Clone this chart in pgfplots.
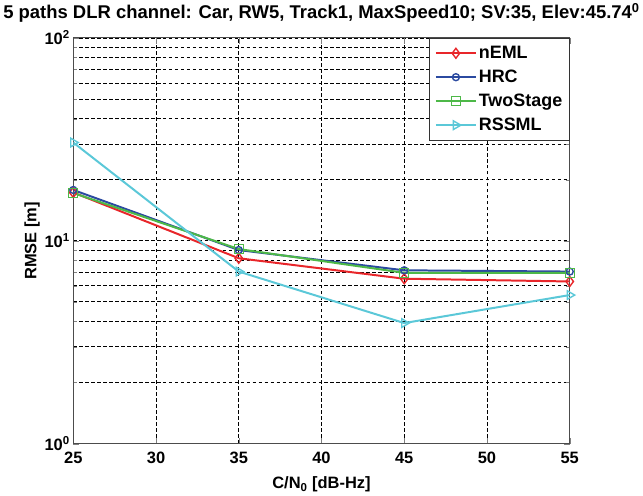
\documentclass[border=0pt]{standalone}
\usepackage{pgfplots}
\pgfplotsset{compat=1.18}
\usepackage{fontspec}
\setmainfont{Liberation Sans}

\definecolor{cEML}{RGB}{232,38,42}
\definecolor{cHRC}{RGB}{43,74,160}
\definecolor{cTwo}{RGB}{77,184,72}
\definecolor{cRSS}{RGB}{91,200,216}

\begin{document}
\begin{tikzpicture}
\begin{semilogyaxis}[
    scale only axis,
    width=498pt, height=407pt,
    xmin=25, xmax=55, ymin=1, ymax=100,
    xtick={25,30,...,55},
    ytick={1,10,100},
    yticklabels={10\textsuperscript{0},10\textsuperscript{1},10\textsuperscript{2}},
    /pgf/number format/assume math mode=true,
    tick label style={font=\fontsize{16.5}{18}\selectfont\bfseries},
    xticklabel style={yshift=-5pt},
    label style={font=\fontsize{16.5}{18}\selectfont\bfseries},
    title style={font=\fontsize{18.5}{20}\selectfont\bfseries, yshift=6pt},
    title={5 paths DLR channel: Car, RW5, Track1, MaxSpeed10; SV:35, Elev:45.74\textsuperscript{0}},
    xlabel={C/N\textsubscript{0} [dB-Hz]},
    ylabel={RMSE [m]},
    xlabel style={yshift=-6pt},
    ylabel style={yshift=-2pt},
    tick align=inside,
    major tick length=6pt, minor tick length=3.5pt,
    axis line style={black!70, line width=1pt},
    xmajorgrids, ymajorgrids, yminorgrids,
    grid style={black, dash pattern=on 3.5pt off 2.5pt, line width=0.7pt},
    minor grid style={black, dash pattern=on 3.5pt off 2.5pt, line width=0.7pt},
    legend style={at={(1,1)}, anchor=north east, draw=black!80, line width=1pt,
        font=\fontsize{18}{20}\selectfont\bfseries, row sep=6pt, inner xsep=5pt, inner ysep=6pt},
    legend cell align=left,
    legend image code/.code={\draw[mark repeat=2, mark phase=2] plot coordinates {(0pt,0pt) (20pt,0pt) (40pt,0pt)};},
    every axis plot/.append style={line width=2pt, mark size=4.5pt, mark options={solid, fill=none, line width=1.4pt}},
]
\addplot[color=cEML, mark=diamond, mark size=5pt] coordinates {(25,17.3) (35,8.2) (45,6.5) (55,6.3)};
\addplot[color=cHRC, mark=o, mark size=3.5pt] coordinates {(25,17.8) (35,9.0) (45,7.15) (55,7.05)};
\addplot[color=cTwo, mark=square] coordinates {(25,17.2) (35,9.1) (45,6.95) (55,6.95)};
\addplot[color=cRSS, mark=triangle, mark size=5pt, mark options={rotate=-90, solid, fill=none, line width=1.4pt}] coordinates {(25,30.5) (35,7.05) (45,3.93) (55,5.4)};
\legend{nEML, HRC, TwoStage, RSSML}
\end{semilogyaxis}
\end{tikzpicture}
\end{document}
